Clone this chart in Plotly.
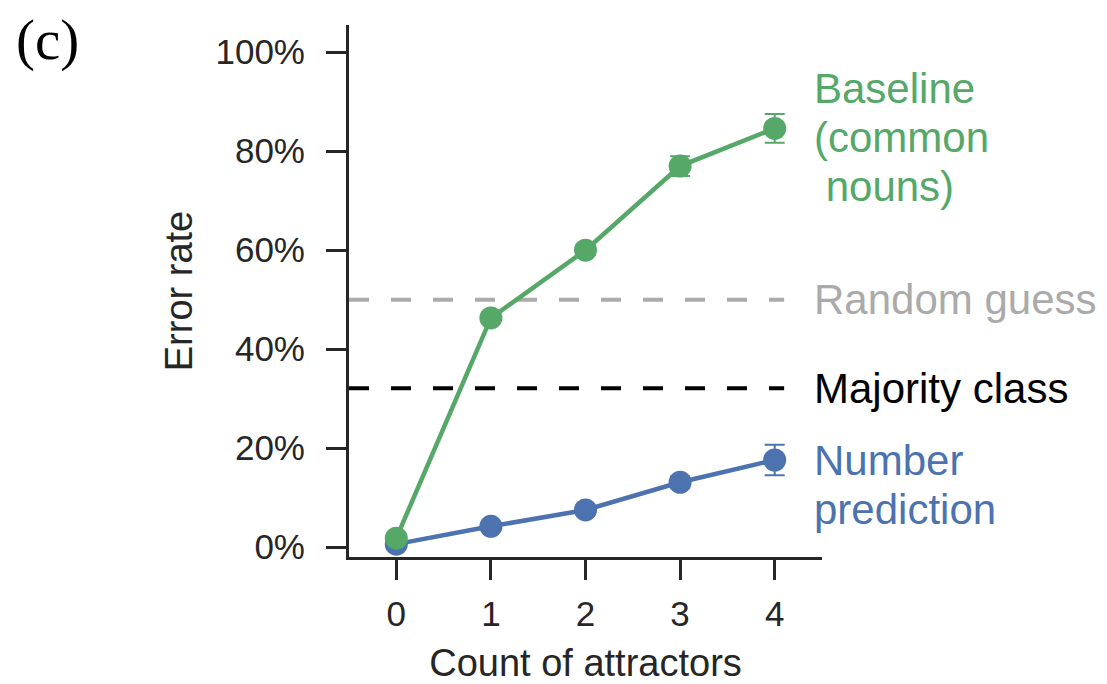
import plotly.graph_objects as go

# Error rate by number of attractors
attractors = [0, 1, 2, 3, 4]
baseline_err = [1.8, 46.3, 60.0, 77.0, 84.6]
baseline_ci = [0.8, 1.0, 1.0, 2.0, 2.9]
number_err = [0.6, 4.2, 7.5, 13.1, 17.6]
number_ci = [0.4, 0.8, 0.9, 1.2, 3.1]
random_guess = 50.0
majority_class = 32.1
y_ticks = [0, 20, 40, 60, 80, 100]
y_tick_text = [f"{v}%" for v in y_ticks]

GREEN = "#55a868"
BLUE = "#4c72b0"
GREY = "#aaaaaa"
INK = "#262626"
FONT = "Liberation Sans, Arial, sans-serif"

fig = go.Figure()

fig.add_trace(go.Scatter(
    x=attractors, y=number_err, mode="lines+markers",
    line=dict(color=BLUE, width=4.5),
    marker=dict(color=BLUE, size=23),
    error_y=dict(type="data", array=number_ci, color=BLUE, thickness=2, width=10),
    showlegend=False,
))
fig.add_trace(go.Scatter(
    x=attractors, y=baseline_err, mode="lines+markers",
    line=dict(color=GREEN, width=4.5),
    marker=dict(color=GREEN, size=23),
    error_y=dict(type="data", array=baseline_ci, color=GREEN, thickness=2, width=10),
    showlegend=False,
))

# Reference levels
for level, color in [(random_guess, GREY), (majority_class, "#000000")]:
    fig.add_shape(type="line", xref="x", yref="y", x0=-0.5, x1=4.1,
                  y0=level, y1=level, layer="below",
                  line=dict(color=color, width=4, dash="20px,22px"))

# Direct labels at the right of the lines, one annotation per text row
LABEL_X = 4.39
ROW = 9.9  # vertical distance between text rows, in data units
label_rows = [
    ("Baseline", 82.8 + ROW, GREEN),
    ("(common", 82.8, GREEN),
    ("\u00a0nouns)", 82.8 - ROW, GREEN),
    ("Random guess", random_guess, GREY),
    ("Majority class", majority_class, "#000000"),
    ("Number", 12.6 + ROW / 2, BLUE),
    ("prediction", 12.6 - ROW / 2, BLUE),
]
for text, yv, color in label_rows:
    fig.add_annotation(x=LABEL_X, y=yv, xref="x", yref="y", xanchor="left", yanchor="middle",
                       text=text, showarrow=False, align="left",
                       font=dict(family=FONT, size=42, color=color))

# Panel letter
fig.add_annotation(x=-0.708, y=0.972, xref="paper", yref="paper", text="(c)", showarrow=False,
                   xanchor="left", yanchor="middle",
                   font=dict(family="Liberation Serif, Times New Roman, serif", size=57, color="#000000"))

fig.update_layout(
    width=1107, height=684,
    margin=dict(l=349, r=285, t=25, b=127),
    paper_bgcolor="white", plot_bgcolor="white",
    font=dict(family=FONT, color=INK),
    xaxis=dict(
        range=[-0.5, 4.5], tickvals=attractors, showgrid=False, zeroline=False,
        showline=True, linecolor=INK, linewidth=3, automargin=False,
        ticks="outside", ticklen=20, tickwidth=3, tickcolor=INK,
        tickfont=dict(size=35, color=INK), ticklabelstandoff=4,
        title=dict(text="Count of attractors", font=dict(size=38, color=INK), standoff=22),
    ),
    yaxis=dict(
        range=[-2.0, 105.5], tickvals=y_ticks, ticktext=y_tick_text, showgrid=False, zeroline=False,
        showline=True, linecolor=INK, linewidth=3, automargin=False,
        ticks="outside", ticklen=20, tickwidth=3, tickcolor=INK,
        tickfont=dict(size=35, color=INK), ticklabelstandoff=14,
        title=dict(text="Error rate", font=dict(size=38, color=INK), standoff=12),
    ),
)

fig.write_html("out.html")
